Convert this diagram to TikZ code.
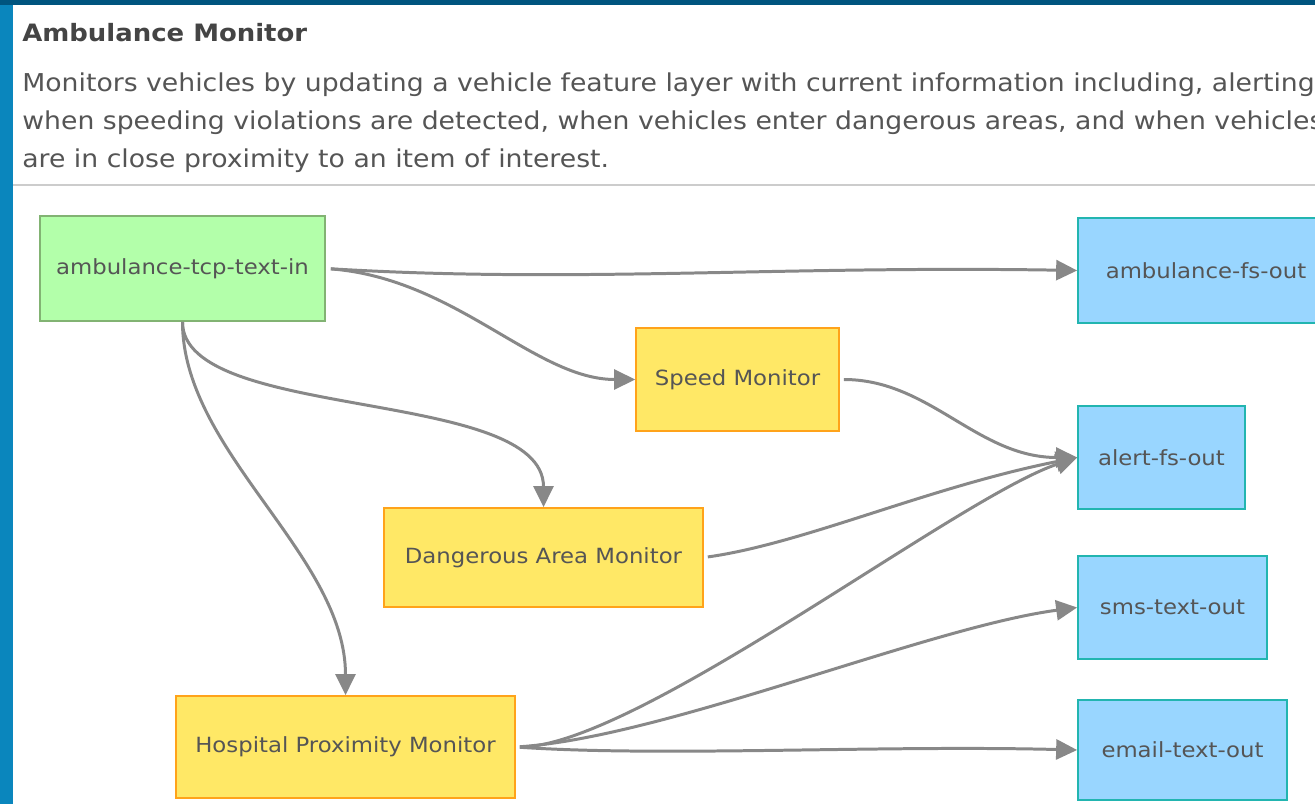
\documentclass[tikz,border=0pt]{standalone}
\usepackage{fontspec}
\setmainfont{DejaVu Sans}
\newfontfamily\widefont[FakeStretch=1.085]{DejaVu Sans}
\newfontfamily\boxfont[FakeStretch=1.09]{DejaVu Sans}
\usetikzlibrary{arrows.meta}

\definecolor{srcfill}{HTML}{B3FFAA}
\definecolor{srcline}{HTML}{82B373}
\definecolor{procfill}{HTML}{FFE866}
\definecolor{procline}{HTML}{FFA31A}
\definecolor{outfill}{HTML}{99D6FF}
\definecolor{outline}{HTML}{22B5B0}
\definecolor{flowgray}{HTML}{888888}
\definecolor{textgray}{HTML}{555555}
\definecolor{frameblue}{HTML}{0A86BD}
\definecolor{topblue}{HTML}{00557F}

\begin{document}
\begin{tikzpicture}[x=0.02cm, y=-0.02cm,
    box/.style={draw, rectangle, line width=1pt, inner sep=0pt, text=textgray, font=\boxfont\fontsize{11.9}{14}\selectfont},
    source/.style={box, fill=srcfill, draw=srcline},
    monitor/.style={box, fill=procfill, draw=procline},
    sink/.style={box, fill=outfill, draw=outline},
    desc/.style={anchor=base west, inner sep=0pt, text=textgray, font=\widefont\fontsize{14}{16}\selectfont},
    flow/.style={draw=flowgray, line width=1.7pt, -{Triangle[length=0.42cm, width=0.4cm]}}]

    % Page frame
    \fill[frameblue] (0,0) rectangle (1315,804);
    \fill[topblue] (0,0) rectangle (1315,5);
    \fill[white] (13,5) rectangle (1315,804);
    \useasboundingbox (0,0) rectangle (1315,804);

    % Header
    \node[desc, text=textgray!80!black, font=\widefont\fontsize{13.6}{16}\selectfont\bfseries] (title) at (22,42) {Ambulance Monitor};
    \node[desc] (line1) at (22,92) {Monitors vehicles by updating a vehicle feature layer with current information including, alerting};
    \node[desc] (line2) at (22,130) {when speeding violations are detected, when vehicles enter dangerous areas, and when vehicles};
    \node[desc] (line3) at (22,168) {are in close proximity to an item of interest.};
    \fill[black!20] (13,184) rectangle (1315,186);

    % Nodes
    \node[source, minimum width=5.7cm, minimum height=2.1cm] (tcpin) at (182.5,268.5) {ambulance-tcp-text-in};
    \node[sink, minimum width=5.12cm, minimum height=2.1cm] (ambfs) at (1206,270.5) {ambulance-fs-out};
    \node[monitor, minimum width=4.06cm, minimum height=2.06cm] (speed) at (737.5,379.5) {Speed Monitor};
    \node[sink, minimum width=3.34cm, minimum height=2.06cm] (alertfs) at (1161.5,457.5) {alert-fs-out};
    \node[monitor, minimum width=6.38cm, minimum height=1.98cm] (danger) at (543.5,557.5) {Dangerous Area Monitor};
    \node[sink, minimum width=3.78cm, minimum height=2.06cm] (sms) at (1172.5,607.5) {sms-text-out};
    \node[monitor, minimum width=6.78cm, minimum height=2.04cm] (hospital) at (345.5,747) {Hospital Proximity Monitor};
    \node[sink, minimum width=4.18cm, minimum height=2.0cm] (email) at (1182.5,750) {email-text-out};

    % Flows
    \draw[flow, shorten <=0.1cm] (tcpin.east) .. controls +(250,15) and +(-300,-5) .. (ambfs.west);
    \draw[flow, shorten <=0.1cm] (tcpin.east) .. controls +(130,10) and +(-100,0) .. (speed.west);
    \draw[flow] (tcpin.south) .. controls +(0,100) and +(0,-120) .. (danger.north);
    \draw[flow] (tcpin.south) .. controls +(0,130) and +(0,-140) .. (hospital.north);
    \draw[flow, shorten <=0.08cm] (speed.east) .. controls +(90,0) and +(-100,0) .. (alertfs.west);
    \draw[flow, shorten <=0.08cm] (danger.east) .. controls +(100,-14) and +(-150,30) .. (alertfs.west);
    \draw[flow, shorten <=0.08cm] (hospital.east) .. controls +(120,0) and +(-120,40) .. (alertfs.west);
    \draw[flow, shorten <=0.08cm] (hospital.east) .. controls +(150,-10) and +(-150,20) .. (sms.west);
    \draw[flow, shorten <=0.08cm] (hospital.east) .. controls +(150,10) and +(-200,-5) .. (email.west);
\end{tikzpicture}
\end{document}
